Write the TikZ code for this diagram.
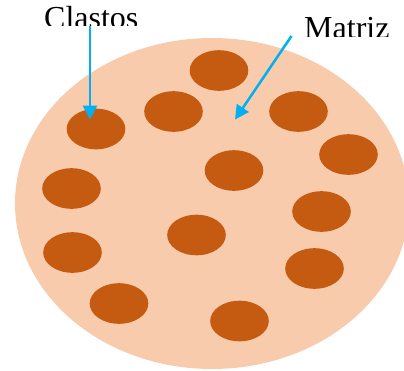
\documentclass[tikz,border=0pt]{standalone}
\usepackage{fontspec}
\setmainfont{Liberation Serif}
\usetikzlibrary{shapes.geometric,arrows.meta}
\definecolor{matrizc}{HTML}{F8CBAD}
\definecolor{clastoc}{HTML}{C55A11}
\definecolor{arrowc}{HTML}{00B0F0}
\tikzset{
  clasto/.style={ellipse,fill=clastoc,draw=none,minimum width=58.6pt,minimum height=40.6pt,inner sep=0pt},
  label text/.style={anchor=base west,inner sep=0pt,font=\fontsize{32}{32}\selectfont},
  pointer/.style={draw=arrowc,line width=2.5pt,-{Triangle[width=14pt,length=14pt]}}
}
\begin{document}
\begin{tikzpicture}[x=1pt,y=-1pt]
\useasboundingbox (0,0) rectangle (404,370);
\fill[matrizc] (212,203.5) ellipse [x radius=197, y radius=165.5];
\node[clasto] (b1) at (219,70.5) {};
\node[clasto] (b2) at (173.5,111.5) {};
\node[clasto] (b3) at (298.5,111.5) {};
\node[clasto] (b4) at (96,129) {};
\node[clasto] (b5) at (234,170.5) {};
\node[clasto] (b6) at (348.5,154.5) {};
\node[clasto] (b7) at (71.5,188.5) {};
\node[clasto] (b8) at (321.5,211.5) {};
\node[clasto] (b9) at (196.5,235) {};
\node[clasto] (b10) at (72.5,252.5) {};
\node[clasto] (b11) at (314.5,268.5) {};
\node[clasto] (b12) at (119,303.5) {};
\node[clasto] (b13) at (239.5,321) {};
\begin{scope}
\clip (0,0) rectangle (200,25.5);
\node[label text] (clastos) at (44,28) {Clastos};
\end{scope}
\begin{scope}
\clip (280,0) rectangle (404,36.5);
\node[label text] (matriz) at (304,38.5) {Matriz};
\end{scope}
\coordinate (cs) at (90,25.5);
\coordinate (ce) at (90,119.5);
\coordinate (ms) at (291.5,36);
\coordinate (me) at (235,119.5);
\draw[pointer] (cs) -- (ce);
\draw[pointer] (ms) -- (me);
\end{tikzpicture}
\end{document}
